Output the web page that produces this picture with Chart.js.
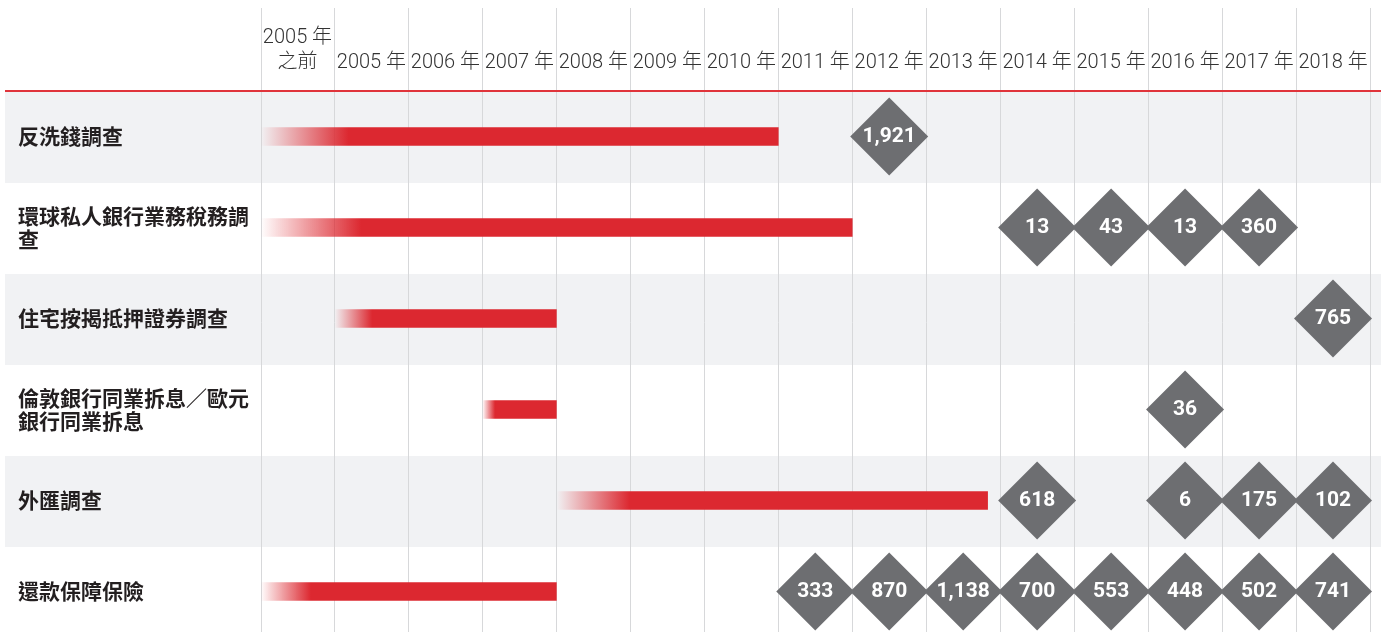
<!DOCTYPE html>
<html>
<head>
<meta charset="utf-8">
<script src="https://cdn.jsdelivr.net/npm/chart.js@4/dist/chart.umd.min.js"></script>
<style>
  html, body { margin: 0; padding: 0; background: #fff; overflow: hidden; }
  .wrap { position: relative; width: 1381px; height: 637px; }
</style>
</head>
<body>
<div class="wrap"><canvas id="timelineChart"></canvas></div>
<script>
  // ===== DATA =====
  const years = [
    ['2005 年', '之前'], '2005 年', '2006 年', '2007 年', '2008 年', '2009 年', '2010 年',
    '2011 年', '2012 年', '2013 年', '2014 年', '2015 年', '2016 年', '2017 年', '2018 年'
  ];
  const cases = [
    '反洗錢調查',
    ['環球私人銀行業務稅務調', '查'],
    '住宅按揭抵押證券調查',
    ['倫敦銀行同業拆息／歐元', '銀行同業拆息'],
    '外匯調查',
    '還款保障保險'
  ];
  // period of conduct, in year columns (0 = before 2005)
  const periodStart = [0, 0, 1, 3, 4, 0];
  const periodEnd = [7, 8, 4, 4, 9.83, 4];

  // fines / costs shown in the diamonds
  const amountCase = [0, 1, 1, 1, 1, 2, 3, 4, 4, 4, 4, 5, 5, 5, 5, 5, 5, 5, 5];
  const amountYear = [8, 10, 11, 12, 13, 14, 12, 10, 12, 13, 14, 7, 8, 9, 10, 11, 12, 13, 14];
  const amountValue = [1921, 13, 43, 13, 360, 765, 36, 618, 6, 175, 102, 333, 870, 1138, 700, 553, 448, 502, 741];

  const RED = '#DC2830';
  const GREY = '#6D6E71';
  const BAND = '#F1F2F4';
  const GRID = '#D7D8DA';

  Chart.defaults.font.family = "Roboto, 'Noto Sans CJK TC', sans-serif";

  // background rows, column grid and red header rule
  const backdrop = {
    id: 'backdrop',
    beforeDraw(chart) {
      const { ctx, chartArea, scales } = chart;
      const x = scales.x, y = scales.y;
      const half = Math.abs(y.getPixelForValue(1) - y.getPixelForValue(0)) / 2;
      ctx.save();
      ctx.fillStyle = BAND;
      cases.forEach((c, i) => {
        if (i % 2 === 0) {
          const cy = y.getPixelForValue(i);
          ctx.fillRect(5, cy - half + 1, chart.width - 5, half * 2);
        }
      });
      ctx.strokeStyle = GRID;
      ctx.lineWidth = 1;
      for (let v = 0; v <= years.length; v++) {
        const px = Math.round(x.getPixelForValue(v)) + 0.5;
        ctx.beginPath();
        ctx.moveTo(px, 8);
        ctx.lineTo(px, chartArea.bottom);
        ctx.stroke();
      }
      ctx.restore();
    },
    afterDraw(chart) {
      const { ctx, chartArea } = chart;
      ctx.save();
      ctx.fillStyle = '#E0343B';
      ctx.fillRect(5, Math.round(chartArea.top) - 1, chart.width - 5, 2);
      ctx.restore();
    }
  };

  // numbers inside the diamonds
  const diamondLabels = {
    id: 'diamondLabels',
    afterDatasetsDraw(chart) {
      const { ctx } = chart;
      const meta = chart.getDatasetMeta(1);
      ctx.save();
      ctx.fillStyle = '#fff';
      ctx.font = "bold 21px Roboto, 'Noto Sans CJK TC', sans-serif";
      ctx.textAlign = 'center';
      ctx.textBaseline = 'middle';
      meta.data.forEach((pt, i) => {
        ctx.fillText(amountValue[i].toLocaleString('en-US'), pt.x, pt.y);
      });
      ctx.restore();
    }
  };

  const fadeBar = (c) => {
    const chart = c.chart;
    if (!chart.chartArea || !c.raw) return RED;
    const x = chart.scales.x;
    const x0 = x.getPixelForValue(c.raw.x[0]);
    const x1 = x.getPixelForValue(c.raw.x[1]);
    const g = chart.ctx.createLinearGradient(x0, 0, x1, 0);
    g.addColorStop(0, 'rgba(220,40,48,0)');
    g.addColorStop(0.17, RED);
    g.addColorStop(1, RED);
    return g;
  };

  const ctx = document.getElementById('timelineChart').getContext('2d');
  new Chart(ctx, {
    type: 'bar',
    data: {
      datasets: [{
        label: 'period',
        data: cases.map((c, i) => ({ x: [periodStart[i], periodEnd[i]], y: i })),
        backgroundColor: fadeBar,
        borderWidth: 0,
        barThickness: 18,
        grouped: false
      }, {
        type: 'scatter',
        label: 'amount',
        data: amountValue.map((v, i) => ({ x: amountYear[i] + 0.5, y: amountCase[i] })),
        pointStyle: 'rectRot',
        pointRadius: 39,
        pointHoverRadius: 39,
        backgroundColor: GREY,
        borderWidth: 0,
        clip: false
      }]
    },
    options: {
      indexAxis: 'y',
      responsive: true,
      maintainAspectRatio: false,
      animation: false,
      events: [],
      layout: { autoPadding: false, padding: { left: 18, right: 11, top: 0, bottom: 0 } },
      scales: {
        x: {
          type: 'linear',
          min: 0,
          max: years.length,
          display: false
        },
        xTop: {
          type: 'category',
          axis: 'x',
          labels: years,
          position: 'top',
          offset: true,
          grid: { display: false, drawTicks: false },
          border: { display: false },
          afterFit: (scale) => {
            scale.height = 91;
            scale.paddingLeft = 0;
            scale.paddingRight = 0;
          },
          ticks: {
            autoSkip: false,
            maxRotation: 0,
            padding: 16,
            color: '#333333',
            font: { size: 20, weight: 300, lineHeight: 1.25 }
          }
        },
        y: {
          type: 'linear',
          min: -0.5,
          max: cases.length - 0.5,
          reverse: true,
          offset: false,
          grid: { display: false, drawTicks: false, offset: false },
          border: { display: false },
          afterBuildTicks: (scale) => {
            scale.ticks = cases.map((c, i) => ({ value: i }));
          },
          afterFit: (scale) => {
            scale.width = 242.5;
            scale.paddingTop = 0;
            scale.paddingBottom = 0;
          },
          ticks: {
            autoSkip: false,
            crossAlign: 'far',
            color: '#231F20',
            font: { family: "'Noto Sans CJK TC', sans-serif", size: 21, weight: 'bold', lineHeight: 1.1 },
            callback: (v) => cases[v]
          }
        }
      },
      plugins: {
        legend: { display: false },
        tooltip: { enabled: false }
      }
    },
    plugins: [backdrop, diamondLabels]
  });
</script>
</body>
</html>
